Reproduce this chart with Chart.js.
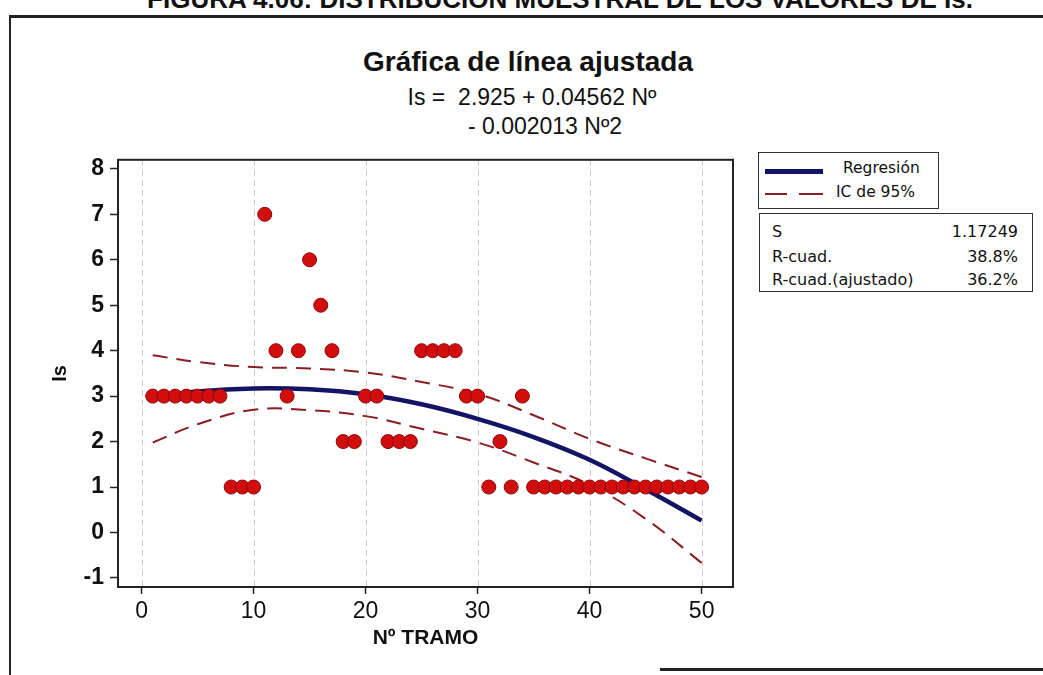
<!DOCTYPE html>
<html>
<head>
<meta charset="utf-8">
<script src="https://cdn.jsdelivr.net/npm/chart.js@4.4.1/dist/chart.umd.min.js"></script>
<style>
  body { margin: 0; width: 1043px; height: 675px; background: #fff; position: relative; overflow: hidden;
         font-family: "Liberation Sans", Arial, sans-serif; color: #111; }
  .abs { position: absolute; white-space: nowrap; }
  #header { left: 0; width: 1120px; top: -14px; text-align: center; font-weight: bold; font-size: 26px; line-height: 26px; }
  #title { left: 0; width: 1056px; top: 47px; text-align: center; font-weight: bold; font-size: 28px; line-height: 30px; }
  #eq1 { left: 0; width: 1064px; top: 84px; text-align: center; font-size: 23px; line-height: 26px; }
  #eq2 { left: 0; width: 1090px; top: 113px; text-align: center; font-size: 23px; line-height: 26px; }
  .rule { position: absolute; background: #222; }
  #chartBox { position: absolute; left: 40px; top: 140px; width: 710px; height: 520px; }
  .box { position: absolute; border: 1.5px solid #333; background: #fff; font-family: "DejaVu Sans", Verdana, sans-serif; font-size: 15.5px; }
  #leg1 { left: 758px; top: 152px; width: 179px; height: 55px; }
  #leg2 { left: 759px; top: 213px; width: 272px; height: 77px; font-size: 16px; }
  .row { position: absolute; left: 0; right: 0; height: 22px; line-height: 22px; }
  .row .l { position: absolute; left: 12px; }
  .row .r { position: absolute; right: 14px; }
</style>
</head>
<body>
<div id="header" class="abs">FIGURA 4.06: DISTRIBUCIÓN MUESTRAL DE LOS VALORES DE Is.</div>
<div class="rule" style="left:9px; top:15px; width:1034px; height:3px;"></div>
<div class="rule" style="left:9px; top:15px; width:2px; height:660px;"></div>
<div class="rule" style="left:660px; top:668px; width:383px; height:3px;"></div>

<div id="title" class="abs">Gráfica de línea ajustada</div>
<div id="eq1" class="abs">Is =&nbsp; 2.925 + 0.04562 Nº</div>
<div id="eq2" class="abs">- 0.002013 Nº2</div>

<div id="chartBox"><canvas id="fitChart" width="710" height="520"></canvas></div>

<div id="leg1" class="box">
  <div style="position:absolute; left:6px; top:16px; width:58px; height:5px; background:#141466;"></div>
  <div class="abs" style="left:84px; top:6px;">Regresión</div>
  <div style="position:absolute; left:6px; top:40px; width:22px; height:2px; background:#8a1c24;"></div>
  <div style="position:absolute; left:40px; top:40px; width:24px; height:2px; background:#8a1c24;"></div>
  <div class="abs" style="left:77px; top:30px;">IC de 95%</div>
</div>
<div id="leg2" class="box">
  <div class="row" style="top:7px;"><span class="l">S</span><span class="r">1.17249</span></div>
  <div class="row" style="top:32px;"><span class="l">R-cuad.</span><span class="r">38.8%</span></div>
  <div class="row" style="top:55px;"><span class="l">R-cuad.(ajustado)</span><span class="r">36.2%</span></div>
</div>

<script>
// observed values (Nº tramo vs Is)
const tramo = [1,2,3,4,5,6,7,8,9,10,11,12,13,14,15,16,17,18,19,20,21,22,23,24,25,
               26,27,28,29,30,31,32,33,34,35,36,37,38,39,40,41,42,43,44,45,46,47,48,49,50];
const isObs = [3,3,3,3,3,3,3,1,1,1,7,4,3,4,6,5,4,2,2,3,3,2,2,2,4,
               4,4,4,3,3,1,2,1,3,1,1,1,1,1,1,1,1,1,1,1,1,1,1,1,1];

// fitted curve and 95% band
const curveX = [1, 5, 10, 15, 20, 25, 30, 35, 40, 45, 50];
const curveFit = [2.97, 3.10, 3.17, 3.15, 3.04, 2.82, 2.50, 2.10, 1.60, 0.95, 0.26];
const curveUpper = [3.90, 3.75, 3.64, 3.61, 3.52, 3.31, 3.05, 2.58, 2.06, 1.63, 1.22];
const curveLower = [1.98, 2.38, 2.70, 2.69, 2.56, 2.28, 1.98, 1.54, 1.05, 0.30, -0.67];

const xTicks = [0, 10, 20, 30, 40, 50];
const yTicks = [-1, 0, 1, 2, 3, 4, 5, 6, 7, 8];

const pts = (xs, ys) => xs.map((v, i) => ({ x: v, y: ys[i] }));

const frame = {
  id: 'frame',
  beforeDatasetsDraw(chart) {
    const { ctx, chartArea: a, scales: { x } } = chart;
    ctx.save();
    ctx.strokeStyle = '#cdc4cf';
    ctx.lineWidth = 1;
    ctx.setLineDash([6, 4]);
    xTicks.forEach(v => {
      const px = Math.round(x.getPixelForValue(v)) + 0.5;
      ctx.beginPath();
      ctx.moveTo(px, a.top);
      ctx.lineTo(px, a.bottom);
      ctx.stroke();
    });
    ctx.restore();
  },
  afterDraw(chart) {
    const { ctx, chartArea: a } = chart;
    ctx.save();
    ctx.strokeStyle = '#222';
    ctx.lineWidth = 2;
    ctx.strokeRect(a.left, a.top, a.right - a.left, a.bottom - a.top);
    ctx.restore();
  }
};

new Chart(document.getElementById('fitChart'), {
  type: 'scatter',
  data: {
    datasets: [
      {
        label: 'Is',
        data: pts(tramo, isObs),
        order: 0,
        pointRadius: 7,
        pointBackgroundColor: '#d10d0d',
        pointBorderColor: '#8e0a0a',
        pointBorderWidth: 1
      },
      {
        label: 'Regresión',
        data: pts(curveX, curveFit),
        order: 1,
        showLine: true,
        pointRadius: 0,
        borderColor: '#141466',
        borderWidth: 4.5,
        tension: 0.4
      },
      {
        label: 'IC de 95% sup',
        data: pts(curveX, curveUpper),
        order: 2,
        showLine: true,
        pointRadius: 0,
        borderColor: '#8a1c24',
        borderWidth: 2,
        borderDash: [15, 9],
        tension: 0.4
      },
      {
        label: 'IC de 95% inf',
        data: pts(curveX, curveLower),
        order: 2,
        showLine: true,
        pointRadius: 0,
        borderColor: '#8a1c24',
        borderWidth: 2,
        borderDash: [15, 9],
        tension: 0.4
      }
    ]
  },
  options: {
    responsive: false,
    devicePixelRatio: 1,
    animation: false,
    layout: { padding: { left: 0, right: 17, top: 15, bottom: 0 } },
    plugins: { legend: { display: false }, tooltip: { enabled: false } },
    scales: {
      x: {
        type: 'linear',
        min: -2.1,
        max: 52.8,
        afterBuildTicks: s => { s.ticks = xTicks.map(v => ({ value: v })); },
        afterFit: s => { s.height = 73; },
        grid: { drawOnChartArea: false, tickLength: 7, tickColor: '#222', tickWidth: 1.5 },
        border: { color: '#222', width: 2 },
        ticks: { color: '#111', padding: 4, font: { family: 'Liberation Sans', size: 23 } },
        title: {
          display: true, text: 'Nº TRAMO', color: '#111',
          padding: { top: 0, bottom: 9 },
          font: { family: 'Liberation Sans', size: 21, weight: 'bold' }
        }
      },
      y: {
        type: 'linear',
        min: -1.2,
        max: 8.2,
        afterBuildTicks: s => { s.ticks = yTicks.map(v => ({ value: v })); },
        afterFit: s => { s.width = 78; },
        grid: { drawOnChartArea: false, tickLength: 8, tickColor: '#222', tickWidth: 1.5 },
        border: { color: '#222', width: 2 },
        ticks: { color: '#111', padding: 6, font: { family: 'Liberation Sans', size: 23, weight: 'bold' } },
        title: {
          display: true, text: 'Is', color: '#111',
          padding: { top: 8, bottom: 0 },
          font: { family: 'Liberation Sans', size: 20, weight: 'bold' }
        }
      }
    }
  },
  plugins: [frame]
});
</script>
</body>
</html>
